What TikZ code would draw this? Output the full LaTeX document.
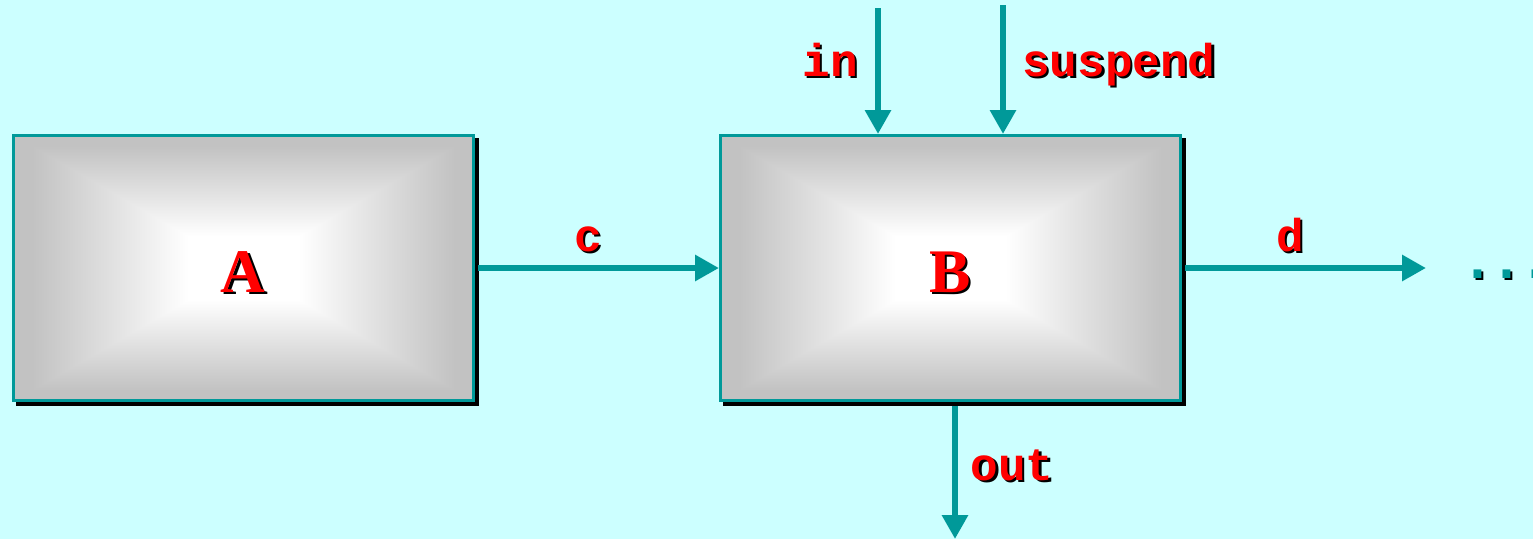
\documentclass[tikz,border=0pt]{standalone}
\usepackage{fontspec}
\setmainfont{Liberation Serif}
\setmonofont{Liberation Mono}
\newfontfamily\dotsfont{DejaVu Sans Mono}
\usetikzlibrary{arrows.meta,calc}

\definecolor{bgcyan}{HTML}{CCFFFF}
\definecolor{flowteal}{HTML}{009999}
\definecolor{boxgrey}{HTML}{C2C2C2}

% grey at the edge, white towards the middle
\pgfdeclareverticalshading{edgefade}{100bp}{color(0bp)=(white); color(37bp)=(white);
  color(52bp)=(boxgrey!45!white); color(71bp)=(boxgrey); color(100bp)=(boxgrey)}

% text with a black cast shadow
\newcommand{\castshadow}[2]{\makebox[0pt][l]{\kern2.5pt\raisebox{-2.5pt}{\color{black}#2}}\textcolor{#1}{#2}}

\tikzset{
  block/.style={draw=flowteal, line width=3pt, minimum width=460pt, minimum height=265pt,
    inner sep=0pt, fill=boxgrey,
    path picture={
      \coordinate (pnw) at (path picture bounding box.north west);
      \coordinate (pne) at (path picture bounding box.north east);
      \coordinate (psw) at (path picture bounding box.south west);
      \coordinate (pse) at (path picture bounding box.south east);
      \coordinate (pc) at (path picture bounding box.center);
      \shade[shading=edgefade] (pnw) rectangle (pc -| pne);
      \shade[shading=edgefade, shading angle=180] (pc -| psw) rectangle (pse);
      \shade[shading=edgefade, shading angle=90] (pnw) -- (pc) -- (psw) -- cycle;
      \shade[shading=edgefade, shading angle=-90] (pne) -- (pc) -- (pse) -- cycle;
    }},
  blockshadow/.style={fill=black},
  flow/.style={draw=flowteal, line width=6pt, -{Triangle[length=24pt,width=25pt]}},
  sig/.style={font=\ttfamily\bfseries\fontsize{46}{46}\selectfont, inner sep=0pt, anchor=base},
  blockname/.style={font=\bfseries\fontsize{62}{62}\selectfont, inner sep=0pt, anchor=base}
}

\begin{document}
\begin{tikzpicture}[x=1pt,y=-1pt]
\fill[bgcyan] (0,0) rectangle (1533,539);
\useasboundingbox (0,0) rectangle (1533,539);

\fill[blockshadow] (16,138) rectangle (479,406);
\fill[blockshadow] (723,138) rectangle (1186,406);
\node[block] (boxA) at (243.5,268) {};
\node[block] (boxB) at (950.5,268) {};
\node[blockname] (nameA) at (243,292) {\castshadow{red}{A}};
\node[blockname] (nameB) at (950,292) {\castshadow{red}{B}};

\coordinate (inTop) at (878,8);
\coordinate (suspTop) at (1003,5);
\coordinate (dEnd) at (1426,268);
\coordinate (outEnd) at (955,539);

\draw[flow, shorten <=3pt] (boxA.east) -- (boxB.west);
\draw[flow, shorten <=3pt] (boxB.east) -- (dEnd);
\draw[flow] (inTop) -- (inTop |- boxB.north);
\draw[flow] (suspTop) -- (suspTop |- boxB.north);
\draw[flow, shorten <=4pt] (outEnd |- boxB.south) -- (outEnd);

\node[sig] (labC) at (588,251) {\castshadow{red}{c}};
\node[sig] (labD) at (1290,251) {\castshadow{red}{d}};
\node[sig] (labIn) at (830,76) {\castshadow{red}{in}};
\node[sig] (labSusp) at (1119,76) {\castshadow{red}{suspend}};
\node[sig] (labOut) at (1012,480) {\castshadow{red}{out}};
\node[font=\dotsfont\bfseries\fontsize{48}{48}\selectfont, inner sep=0pt, anchor=base west]
  (more) at (1463,278) {\castshadow{flowteal}{...}};
\end{tikzpicture}
\end{document}
